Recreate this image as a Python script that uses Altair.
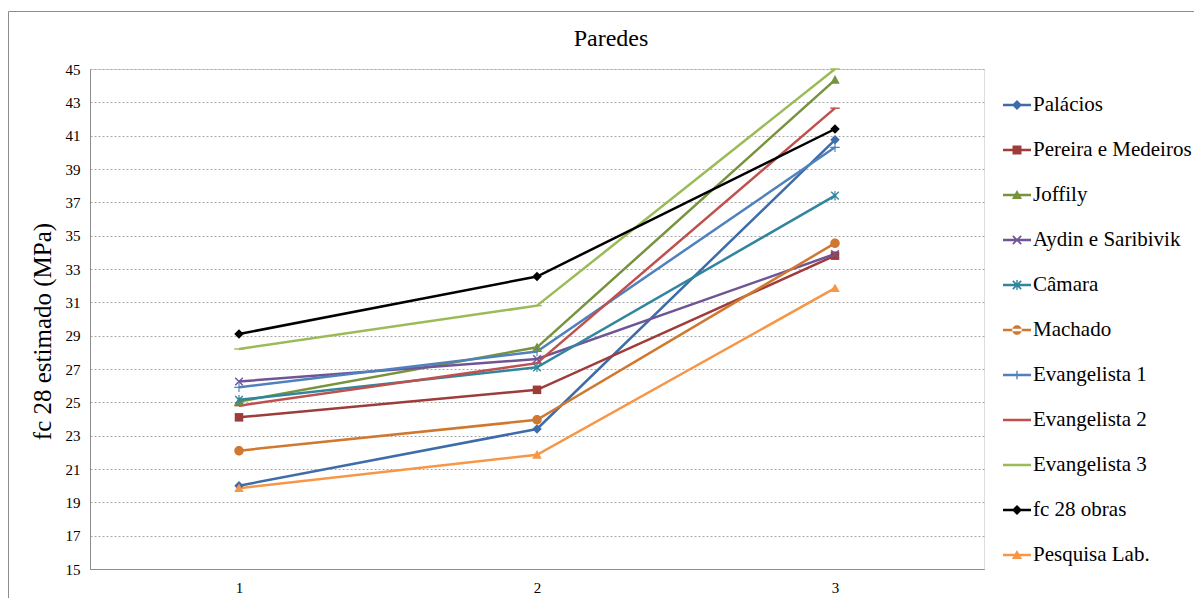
import altair as alt
import pandas as pd

x_vals = [1, 2, 3]
series = ["Palácios", "Pereira e Medeiros", "Joffily", "Aydin e Saribivik", "Câmara",
          "Machado", "Evangelista 1", "Evangelista 2", "Evangelista 3", "fc 28 obras",
          "Pesquisa Lab."]
palacios = [20.0, 23.4, 40.75]
pereira = [24.1, 25.75, 33.8]
joffily = [25.05, 28.3, 44.35]
aydin = [26.25, 27.6, 33.9]
camara = [25.15, 27.1, 37.4]
machado = [22.1, 23.95, 34.55]
evang1 = [25.9, 28.05, 40.3]
evang2 = [24.8, 27.35, 42.65]
evang3 = [28.2, 30.8, 45.0]
obras = [29.1, 32.55, 41.4]
pesquisa = [19.85, 21.85, 31.85]
values = [palacios, pereira, joffily, aydin, camara, machado, evang1, evang2, evang3, obras, pesquisa]
y_ticks = [15, 17, 19, 21, 23, 25, 27, 29, 31, 33, 35, 37, 39, 41, 43, 45]

colors = ["#3E6CA8", "#9E3C3A", "#77933C", "#6F5596", "#31869E", "#D0782F",
          "#4F81BD", "#C0504D", "#9BBB59", "#000000", "#F79646"]

# marker shapes (unit box) for the plotted points
DIAM = "M0,-1L1,0L0,1L-1,0Z"
SQR = "M-0.9,-0.9H0.9V0.9H-0.9Z"
TRI = "M0,-1L1,0.8H-1Z"
XS = "M-0.694,-0.906L0.906,0.694L0.694,0.906L-0.906,-0.694Z M-0.906,0.694L0.694,-0.906L0.906,-0.694L-0.694,0.906Z"
AST = XS + " M-0.12,-1H0.12V1H-0.12Z"
CIRC = "M-1,0A1,1 0 1,0 1,0A1,1 0 1,0 -1,0Z"
PLUS = "M-0.12,-1H0.12V1H-0.12Z M-1,-0.12H1V0.12H-1Z"
DASH = "M-1,-0.15H1V0.15H-1Z"
marker_paths = [DIAM, SQR, TRI, XS, AST, CIRC, PLUS, DASH, DASH, DIAM, TRI]

# legend symbols: line + marker
LINE = "M-1,-0.09H1V0.09H-1Z"
L_DIAM = "M0,-0.36L0.36,0L0,0.36L-0.36,0Z"
L_SQR = "M-0.32,-0.32H0.32V0.32H-0.32Z"
L_TRI = "M0,-0.36L0.36,0.28H-0.36Z"
L_X = "M-0.258,-0.342L0.342,0.258L0.258,0.342L-0.342,-0.258Z M-0.342,0.258L0.258,-0.342L0.342,-0.258L-0.258,0.342Z"
L_AST = L_X + " M-0.05,-0.36H0.05V0.36H-0.05Z"
L_CIRC = "M-0.34,0A0.34,0.34 0 1,0 0.34,0A0.34,0.34 0 1,0 -0.34,0Z"
L_PLUS = "M-0.05,-0.3H0.05V0.3H-0.05Z"
legend_paths = [LINE + " " + p if p else LINE for p in
                [L_DIAM, L_SQR, L_TRI, L_X, L_AST, L_CIRC, L_PLUS, "", "", L_DIAM, L_TRI]]

rows = []
for s, vals in zip(series, values):
    for x, v in zip(x_vals, vals):
        rows.append({"serie": s, "x": x, "v": v})
df = pd.DataFrame(rows)

FONT = "Liberation Serif"

x_axis = alt.Axis(values=x_vals, title=None, grid=False, ticks=False, tickSize=0,
                  labelFont=FONT, labelFontSize=15, labelColor="#000000",
                  labelPadding=11, domainColor="#8c8c8c", format="d")
y_axis = alt.Axis(values=y_ticks, title="fc 28 estimado (MPa)",
                  titleFont=FONT, titleFontSize=25, titleFontWeight="normal",
                  titleColor="#000000", titleX=-48, titleY=262, titleAngle=270,
                  titleBaseline="middle", titleAlign="center",
                  grid=True, gridColor="#a8a8a8", gridDash=[2, 2], gridWidth=1,
                  ticks=False, tickSize=0, labelFont=FONT, labelFontSize=15,
                  labelOverlap=False, labelFlush=False,
                  labelColor="#000000", labelPadding=10, domainColor="#8c8c8c")


def xenc():
    return alt.X("x:Q", scale=alt.Scale(domain=[0.5, 3.5], nice=False, zero=False), axis=x_axis)


def yenc():
    return alt.Y("v:Q", scale=alt.Scale(domain=[15, 45], nice=False, zero=False), axis=y_axis)


base = alt.Chart(df)

lines = base.mark_line(strokeWidth=2.5).encode(
    x=xenc(), y=yenc(),
    color=alt.Color("serie:N", scale=alt.Scale(domain=series, range=colors), legend=None),
    detail="serie:N",
)

points = base.mark_point(filled=True, opacity=1, size=90).encode(
    x=xenc(), y=yenc(),
    color=alt.Color("serie:N", scale=alt.Scale(domain=series, range=colors), legend=None),
    shape=alt.Shape("serie:N", scale=alt.Scale(domain=series, range=marker_paths), legend=None),
)

leg = alt.Legend(title=None, orient="none", legendX=913, legendY=22, padding=0,
                 symbolSize=784, symbolOpacity=1, symbolStrokeWidth=0,
                 labelFont=FONT, labelFontSize=21, labelColor="#000000", labelOffset=2,
                 labelLimit=400, rowPadding=21)
legend_layer = base.mark_point(filled=True, opacity=0).encode(
    x=xenc(), y=yenc(),
    color=alt.Color("serie:N", scale=alt.Scale(domain=series, range=colors), legend=leg),
    shape=alt.Shape("serie:N", scale=alt.Scale(domain=series, range=legend_paths), legend=leg),
)

frame = alt.Chart(pd.DataFrame({"a": [0]})).mark_rect(
    fill="transparent", stroke="#8c8c8c", strokeWidth=1
).encode(x=alt.value(-81.5), x2=alt.value(1140), y=alt.value(-57.5), y2=alt.value(560))

title = alt.Chart(pd.DataFrame({"t": ["Paredes"]})).mark_text(
    font=FONT, fontSize=24, color="#000000", align="center", baseline="alphabetic"
).encode(text="t:N", x=alt.value(521), y=alt.value(-23))

chart = alt.layer(frame, title, lines, points, legend_layer).resolve_scale(
    shape="independent", color="independent"
).properties(
    width=894, height=500,
    autosize=alt.AutoSizeParams(type="none"),
    padding={"left": 82, "top": 61, "right": 210, "bottom": 29},
).configure_view(strokeWidth=0).configure(background="#ffffff").configure_legend(
    labelFont=FONT, labelFontSize=21, labelColor="#000000"
).configure_axis(
    labelFont=FONT, labelColor="#000000", labelOverlap=False
)

chart.save("out.html", embed_options={"renderer": "svg", "actions": False})
